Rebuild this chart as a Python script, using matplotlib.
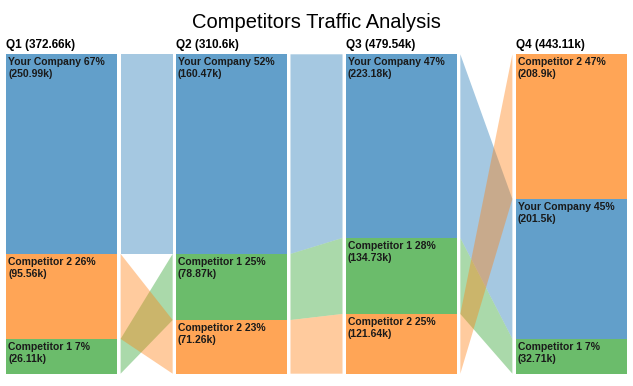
import numpy as np
import matplotlib
matplotlib.use("Agg")
import matplotlib.pyplot as plt

plt.rcParams["font.family"] = ["Liberation Sans", "DejaVu Sans"]

# ------------------------------------------------------------
# Data
# ------------------------------------------------------------
quarters = ["Q1", "Q2", "Q3", "Q4"]
quarter_totals = [372.66, 310.6, 479.54, 443.11]   # k
companies = ["Your Company", "Competitor 1", "Competitor 2"]

your_company = [250.99, 160.47, 223.18, 201.5]
competitor_1 = [26.11, 78.87, 134.73, 32.71]
competitor_2 = [95.56, 71.26, 121.64, 208.9]

# segment heights as drawn in the chart (% of column height)
your_company_share = [62.5, 62.5, 57.5, 43.8]
competitor_1_share = [10.9, 20.7, 23.8, 10.9]
competitor_2_share = [26.6, 16.8, 18.7, 45.3]

values = np.array([your_company, competitor_1, competitor_2])
shares = np.array([your_company_share, competitor_1_share, competitor_2_share]) / 100.0

colors = ["#1f77b4", "#2ca02c", "#ff7f0e"]

# ------------------------------------------------------------
# Layout
# ------------------------------------------------------------
bar_w = 111.5 / 170
gap = 3.2 / 170

fig = plt.figure(figsize=(6.33, 3.86), dpi=100)
ax = fig.add_axes([6 / 633, 12.3 / 386, 621 / 633, 319.4 / 386])
ax.set_xlim(0, len(quarters) - 1 + bar_w)
ax.set_ylim(1, 0)
ax.axis("off")

# top/bottom of each segment, largest on top
tops = np.zeros_like(shares)
for q in range(len(quarters)):
    order = np.argsort(-values[:, q])
    cum = 0.0
    for c in order:
        tops[c, q] = cum
        cum += shares[c, q]
bots = tops + shares

# ribbons
for q in range(len(quarters) - 1):
    x0 = q + bar_w + gap
    x1 = q + 1 - gap
    for c in range(len(companies)):
        ax.fill([x0, x1, x1, x0],
                [tops[c, q], tops[c, q + 1], bots[c, q + 1], bots[c, q]],
                color=colors[c], alpha=0.4, lw=0)

# bars + labels
for q in range(len(quarters)):
    for c in range(len(companies)):
        ax.bar(q, shares[c, q], bottom=tops[c, q], width=bar_w, align="edge",
               color=colors[c], alpha=0.7, lw=0)
        pct = round(100 * values[c, q] / quarter_totals[q])
        txt = f"{companies[c]} {pct}%\n({values[c, q]:g}k)"
        ax.annotate(txt, (q, tops[c, q]), xytext=(1.5, -2.0), textcoords="offset points",
                    ha="left", va="top", fontsize=7.5, fontweight="bold",
                    color="#1a1a1a", linespacing=1.3)
    ax.annotate(f"{quarters[q]} ({quarter_totals[q]:g}k)", (q, 0), xytext=(0, 4.2),
                textcoords="offset points", ha="left", va="baseline",
                fontsize=8.5, fontweight="bold", color="black")

fig.text(0.5, 1 - 28.3 / 386, "Competitors Traffic Analysis", ha="center",
         va="baseline", fontsize=14.5, color="black")

fig.savefig("out.png", dpi=100)
